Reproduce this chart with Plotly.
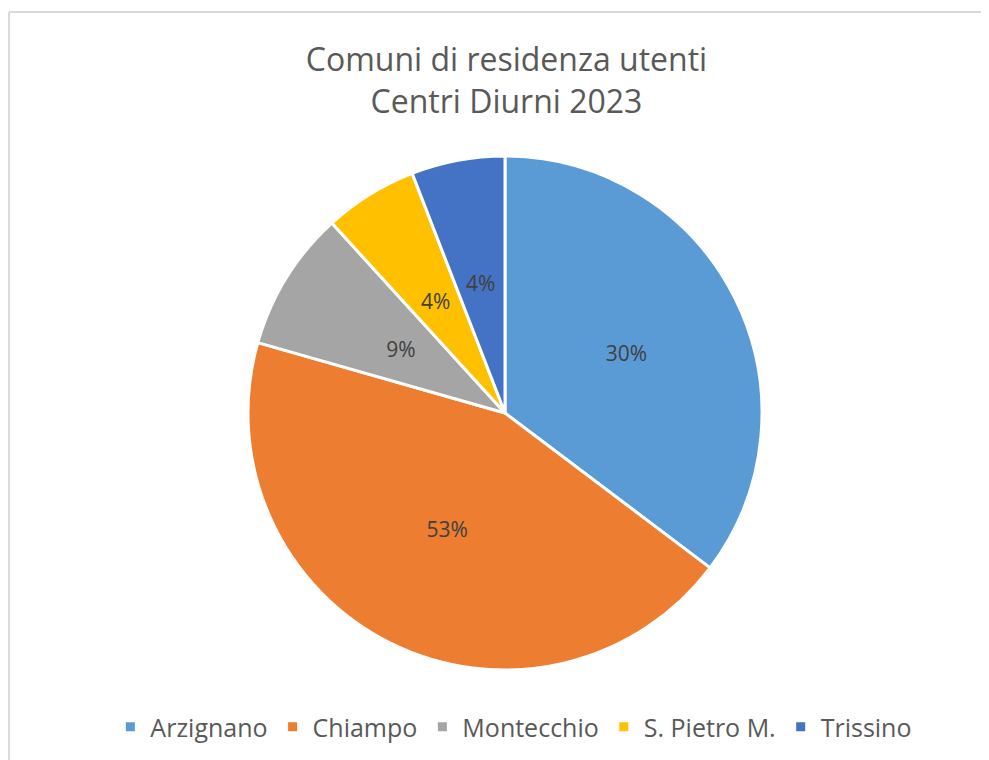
import plotly.graph_objects as go

comuni = ['Arzignano', 'Chiampo', 'Montecchio', 'S. Pietro M.', 'Trissino']
utenti = [12, 15, 3, 2, 2]
etichette = ['30%', '53%', '9%', '4%', '4%']
colori = ['#5B9BD5', '#ED7D31', '#A5A5A5', '#FFC000', '#4472C4']

# le etichette delle fette grandi stanno sulla torta vera,
# quelle piccole su una torta trasparente più stretta (come in Excel)
grandi = [t if v >= 10 else '' for t, v in zip(etichette, utenti)]
piccole = [t if v < 10 else '' for t, v in zip(etichette, utenti)]

font = "Open Sans, Liberation Sans, sans-serif"

fig = go.Figure()

fig.add_trace(go.Pie(
    labels=comuni,
    values=utenti,
    text=grandi,
    textinfo='text',
    textposition='inside',
    insidetextorientation='horizontal',
    textfont=dict(size=21, color='#404040', family=font),
    marker=dict(colors=colori, line=dict(color='white', width=3)),
    sort=False,
    direction='clockwise',
    rotation=0,
    domain=dict(x=[0, 1], y=[0, 1]),
))

fig.add_trace(go.Pie(
    labels=comuni,
    values=utenti,
    text=piccole,
    textinfo='text',
    textposition='inside',
    insidetextorientation='horizontal',
    textfont=dict(size=21, color='#404040', family=font),
    marker=dict(colors=['rgba(0,0,0,0)'] * len(comuni), line=dict(width=0)),
    sort=False,
    direction='clockwise',
    rotation=0,
    showlegend=False,
    hoverinfo='skip',
    domain=dict(x=[0.3415, 0.6585], y=[0.1965, 0.8035]),
))

fig.update_layout(
    width=989,
    height=760,
    title=dict(
        text="Comuni di residenza utenti<br>Centri Diurni 2023",
        x=0.504, xanchor='center',
        y=0.917, yanchor='top',
        font=dict(family=font, size=32, color='#595959'),
    ),
    font=dict(family=font, color='#595959'),
    margin=dict(l=5, r=0, t=148, b=98),
    paper_bgcolor='white',
    plot_bgcolor='white',
    uniformtext=dict(minsize=21, mode='show'),
    showlegend=True,
    legend=dict(
        orientation='h',
        x=0.509, xanchor='center',
        y=-0.111, yanchor='middle',
        font=dict(size=25, color='#595959'),
        traceorder='normal',
    ),
    shapes=[
        dict(type='line', xref='paper', yref='paper', x0=-0.004, x1=1.01, y0=1.28, y1=1.28,
             line=dict(color='#D9D9D9', width=2)),
        dict(type='line', xref='paper', yref='paper', x0=-0.004, x1=-0.004, y0=1.28, y1=-0.2,
             line=dict(color='#D9D9D9', width=2)),
    ],
)

fig.write_html("out.html")
